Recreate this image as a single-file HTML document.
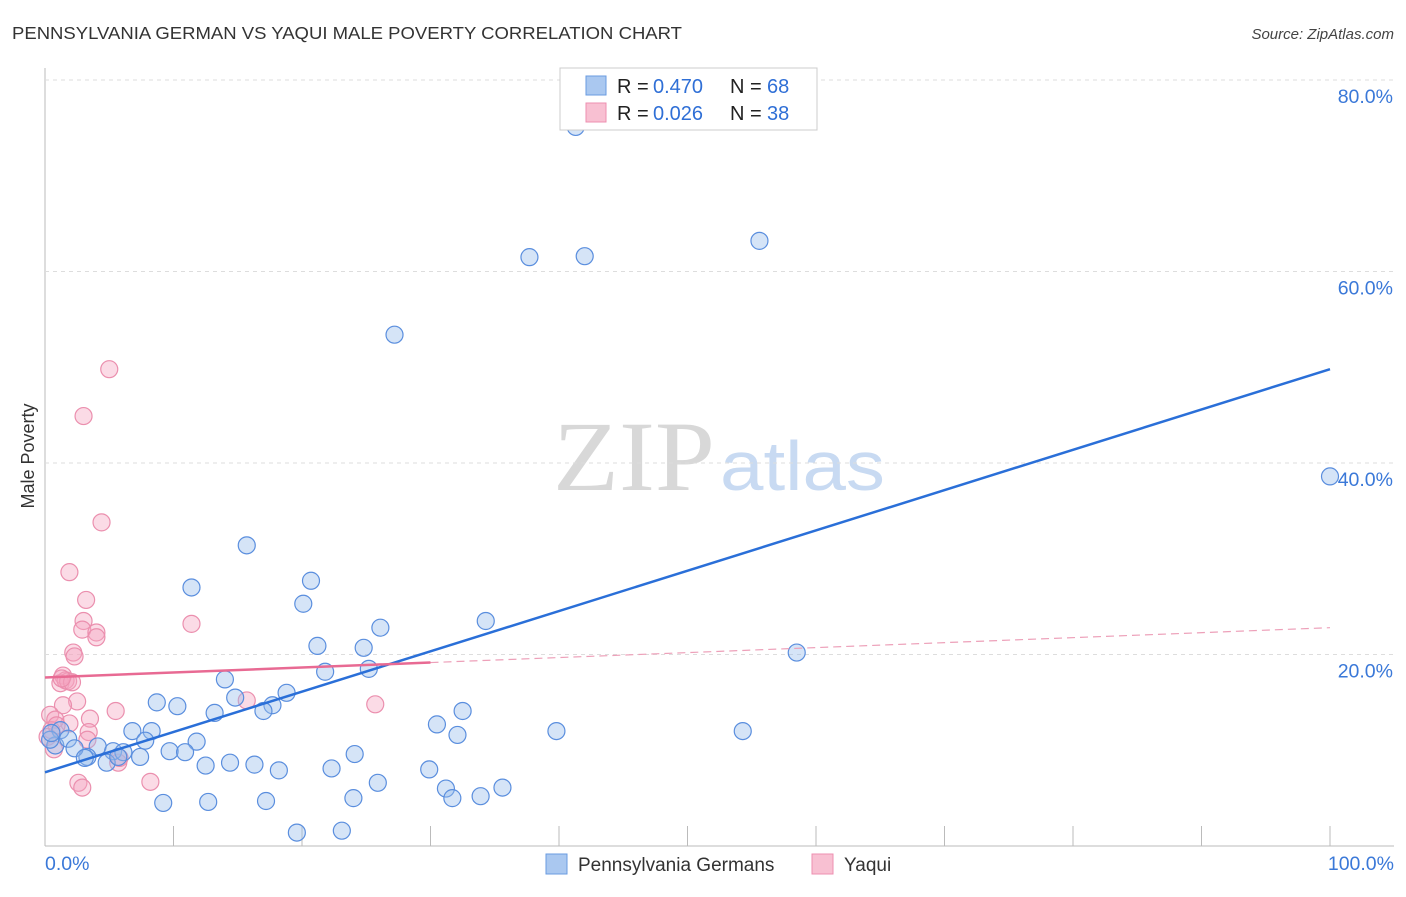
<!DOCTYPE html>
<html><head><meta charset="utf-8"><style>
body{margin:0;background:#fff;font-family:"Liberation Sans",sans-serif}
</style></head><body>
<svg id="c" width="1406" height="892" xmlns="http://www.w3.org/2000/svg">
<text x="12" y="39" font-size="17.5" fill="#333" textLength="670" lengthAdjust="spacingAndGlyphs">PENNSYLVANIA GERMAN VS YAQUI MALE POVERTY CORRELATION CHART</text>
<text x="1394" y="39" font-size="15" fill="#444" font-style="italic" text-anchor="end">Source: ZipAtlas.com</text>
<text x="553" y="490" font-size="100" fill="#d8d8d8" textLength="162" lengthAdjust="spacingAndGlyphs" font-family="Liberation Serif">ZIP</text>
<text x="720" y="490" font-size="70" fill="#c8daf2" textLength="165" lengthAdjust="spacingAndGlyphs">atlas</text>
<text transform="translate(34,456) rotate(-90)" font-size="18" fill="#333" text-anchor="middle">Male Poverty</text>
<g id="grid"></g><g id="marks"></g>
<g>
<rect x="560" y="68" width="257" height="62" fill="#fff" stroke="#ccc"/>
<rect x="586" y="76" width="20" height="19" fill="#aac8f0" stroke="#6a9be0"/>
<rect x="586" y="103" width="20" height="19" fill="#f8c0d2" stroke="#ee8fb0"/>
<text x="617" y="93" font-size="20" fill="#222">R =</text><text x="653" y="93" font-size="20" fill="#2f6fd6">0.470</text>
<text x="730" y="93" font-size="20" fill="#222">N =</text><text x="767" y="93" font-size="20" fill="#2f6fd6">68</text>
<text x="617" y="120" font-size="20" fill="#222">R =</text><text x="653" y="120" font-size="20" fill="#2f6fd6">0.026</text>
<text x="730" y="120" font-size="20" fill="#222">N =</text><text x="767" y="120" font-size="20" fill="#2f6fd6">38</text>
</g>
<g>
<rect x="546" y="854" width="21" height="20" fill="#aac8f0" stroke="#6a9be0"/>
<text x="578" y="871" font-size="19" fill="#333">Pennsylvania Germans</text>
<rect x="812" y="854" width="21" height="20" fill="#f8c0d2" stroke="#ee8fb0"/>
<text x="844" y="871" font-size="19" fill="#333">Yaqui</text>
</g>
</svg>
<script>
const blueX=[41.3,37.7,42.0,55.6,27.2,100,15.7,11.4,20.7,20.1,34.3,26.1,21.2,24.8,58.5,21.8,25.2,14.0,8.7,10.3,14.8,18.8,17.7,17.0,13.2,30.5,32.5,32.1,39.8,54.3,6.8,8.3,7.8,11.8,9.7,10.9,4.1,5.3,6.1,3.3,7.4,4.8,5.7,12.5,14.4,16.3,18.2,22.3,24.1,29.9,25.9,31.2,31.7,33.9,35.6,24.0,9.2,12.7,17.2,19.6,23.1,0.8,1.2,1.8,2.3,0.4,0.5,3.1];
const blueY=[75.1,61.5,61.6,63.2,53.4,38.6,31.4,27.0,27.7,25.3,23.5,22.8,20.9,20.7,20.2,18.2,18.5,17.4,15.0,14.6,15.5,16.0,14.7,14.1,13.9,12.7,14.1,11.6,12.0,12.0,12.0,12.0,11.0,10.9,9.9,9.8,10.4,9.9,9.8,9.3,9.3,8.7,9.3,8.4,8.7,8.5,7.9,8.1,9.6,8.0,6.6,6.0,5.0,5.2,6.1,5.0,4.5,4.6,4.7,1.4,1.6,10.5,12.1,11.2,10.2,11.1,11.8,9.2];
const pinkX=[5.0,3.0,4.4,1.9,3.2,3.0,2.9,4.0,4.0,11.4,2.2,2.3,1.4,1.2,1.6,1.8,2.1,1.3,15.7,25.7,2.5,1.4,5.5,1.9,3.5,0.4,0.8,0.5,0.2,0.7,3.4,3.3,5.7,2.6,2.9,8.2,5.8,0.9];
const pinkY=[49.8,44.9,33.8,28.6,25.7,23.5,22.6,22.3,21.8,23.2,20.2,19.8,17.8,17.0,17.3,17.2,17.1,17.5,15.2,14.8,15.1,14.7,14.1,12.8,13.3,13.7,13.2,12.1,11.4,10.1,11.9,11.1,8.7,6.6,6.1,6.7,9.2,12.6];
const blueTrend=[7.7,49.8];
const pinkTrend=[17.6,22.8];
const yTicks=[20,40,60,80];
const xTicks=[0,10,20,30,40,50,60,70,80,90,100];
const NS="http://www.w3.org/2000/svg";
const sx=v=>45+v*12.85, sy=v=>846-v*9.575;
function mk(t,a,p){const e=document.createElementNS(NS,t);for(const k in a)e.setAttribute(k,a[k]);p.appendChild(e);return e;}
const g=document.getElementById('grid'),m=document.getElementById('marks');
mk('line',{x1:45,y1:68,x2:45,y2:846,stroke:'#bbb'},g);
mk('line',{x1:45,y1:846,x2:1394,y2:846,stroke:'#bbb'},g);
yTicks.forEach(t=>{
 const l=mk('line',{x1:45,y1:sy(t),x2:1394,y2:sy(t),stroke:'#ddd','stroke-dasharray':'4,4'},g);
 
 
 const tx=mk('text',{x:1393,y:sy(t)+23,'font-size':19.5,fill:'#3a78d8','text-anchor':'end'},g);
 tx.textContent=t.toFixed(1)+'%';
 
 
});
mk('line',{x1:45,y1:80,x2:1394,y2:80,stroke:'#ddd','stroke-dasharray':'4,4'},g);
xTicks.forEach(t=>{
 if(t>0){const l=mk('line',{x1:sx(t),y1:826,x2:sx(t),y2:846,stroke:'#bbb'},g);
 
 }
});
[[0,'start'],[100,'end']].forEach(([t,a])=>{
 const tx=mk('text',{x:t==0?45:1394,y:870,'font-size':19.5,fill:'#3a78d8','text-anchor':a},g);
 tx.textContent=t.toFixed(1)+'%';
 
 
});
function pts(X,Y,fill,stroke,name){X.forEach((x,i)=>{
 const c=mk('circle',{cx:sx(x),cy:sy(Y[i]),r:8.5,fill:fill,stroke:stroke,'stroke-width':1.2},m);
 
 
});}
pts(pinkX,pinkY,'rgba(245,165,192,0.4)','#eb8fae','yaqui-point');
pts(blueX,blueY,'rgba(150,188,235,0.4)','#5a8ede','pennsylvania-german-point');
const bl=mk('line',{x1:sx(0),y1:sy(blueTrend[0]),x2:sx(100),y2:sy(blueTrend[1]),stroke:'#2a6fd8','stroke-width':2.5},m);


const py=x=>pinkTrend[0]+(pinkTrend[1]-pinkTrend[0])*x/100;
const pl=mk('line',{x1:sx(0),y1:sy(py(0)),x2:sx(30),y2:sy(py(30)),stroke:'#e86a93','stroke-width':2.5},m);


const pd=mk('line',{x1:sx(30),y1:sy(py(30)),x2:sx(100),y2:sy(py(100)),stroke:'#eda0b9','stroke-width':1.2,'stroke-dasharray':'8,5'},m);


</script>
</body></html>
